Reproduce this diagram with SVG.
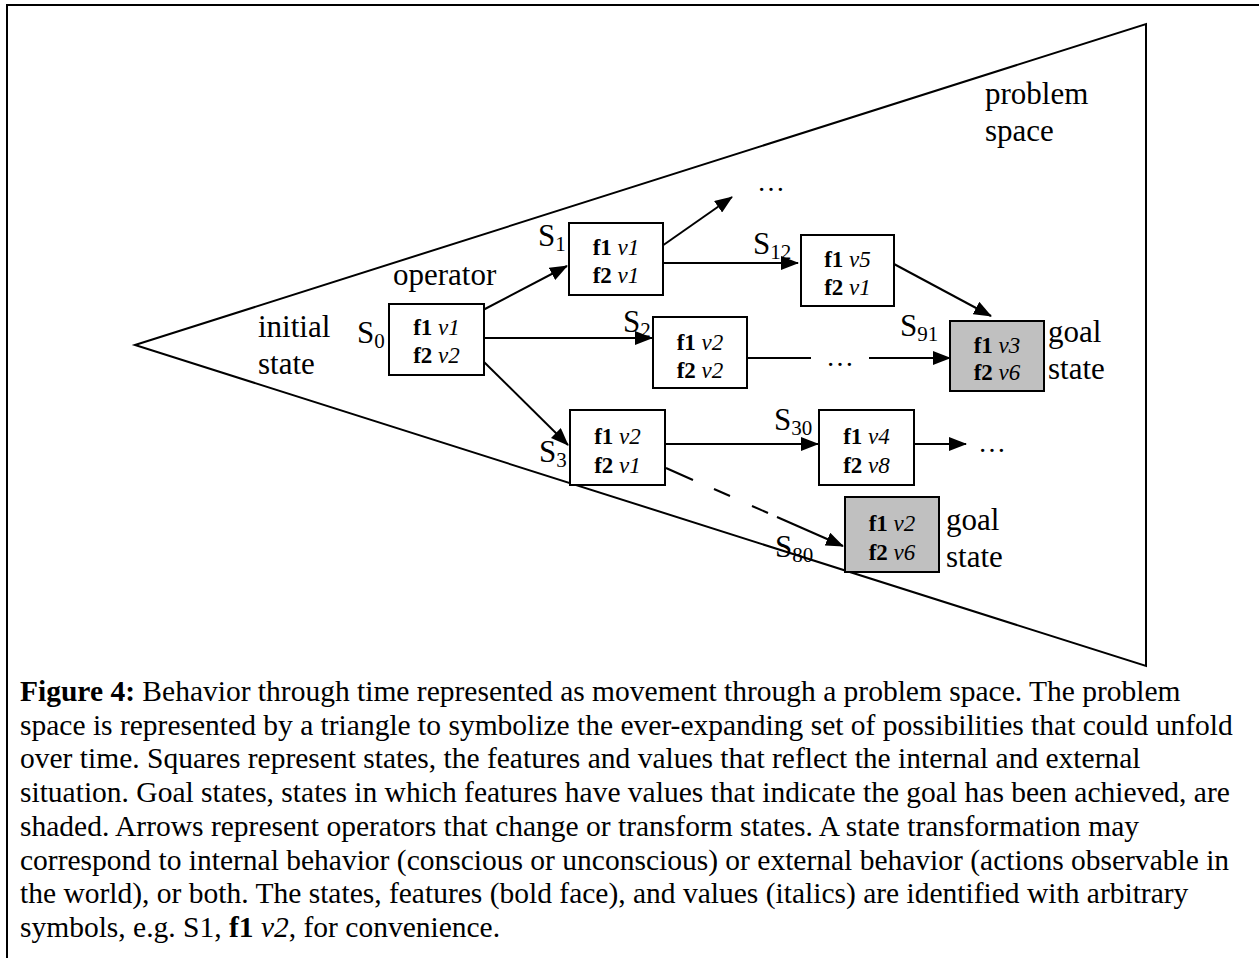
<svg xmlns="http://www.w3.org/2000/svg" width="1259" height="958" viewBox="0 0 1259 958">
<style>
text{font-family:"Liberation Serif","Times New Roman",serif;fill:#000}
.lbl{font-size:31px}
.sub{font-size:21px}
.nt{font-size:23px;text-anchor:middle}
.b{font-weight:bold}
.i{font-style:italic}
.box{fill:#fff;stroke:#000;stroke-width:2}
.goal{fill:#c0c0c0;stroke:#000;stroke-width:2}
.ln{stroke:#000;stroke-width:2;fill:none}
.cap{font-size:29.5px}
.dots{font-size:28px}
</style>
<defs>
<marker id="ah" markerUnits="userSpaceOnUse" markerWidth="18" markerHeight="14" refX="17" refY="7" orient="auto">
<path d="M0,0 L18,7 L0,14 Z" fill="#000"/>
</marker>
</defs>
<rect width="1259" height="958" fill="#fff"/>
<g id="frame">
<path d="M7,958 V5 H1259" class="ln"/>
</g>
<g id="problem-space">
<polygon points="135,345 1146,24 1146,666" class="ln"/>
<text class="lbl" x="985" y="104">problem</text>
<text class="lbl" x="985" y="141">space</text>
</g>
<g id="labels">
<text class="lbl" x="258" y="337">initial</text>
<text class="lbl" x="258" y="374">state</text>
<text class="lbl" x="393" y="285">operator</text>
</g>
<g id="connectors">
<line x1="483" y1="310" x2="567" y2="266" class="ln" marker-end="url(#ah)"/>
<line x1="484" y1="338" x2="652" y2="338" class="ln" marker-end="url(#ah)"/>
<line x1="484" y1="362" x2="568" y2="445" class="ln" marker-end="url(#ah)"/>
<line x1="662" y1="246" x2="732" y2="197" class="ln" marker-end="url(#ah)"/>
<line x1="662" y1="263" x2="798" y2="263" class="ln" marker-end="url(#ah)"/>
<line x1="894" y1="264" x2="991" y2="316" class="ln" marker-end="url(#ah)"/>
<line x1="743" y1="358" x2="811" y2="358" class="ln"/>
<line x1="869" y1="358" x2="950" y2="358" class="ln" marker-end="url(#ah)"/>
<line x1="665" y1="444" x2="818" y2="444" class="ln" marker-end="url(#ah)"/>
<line x1="912" y1="444" x2="966" y2="444" class="ln" marker-end="url(#ah)"/>
<line x1="666" y1="468" x2="693" y2="480" class="ln"/>
<line x1="714" y1="489" x2="730" y2="496" class="ln"/>
<line x1="752" y1="506" x2="768" y2="513" class="ln"/>
<line x1="777" y1="517" x2="843" y2="546" class="ln" marker-end="url(#ah)"/>
<text class="dots" x="757" y="191">…</text>
<text class="dots" x="826" y="366">…</text>
<text class="dots" x="978" y="452">…</text>
</g>
<g id="S0">
<rect x="389" y="304" width="95" height="71" class="box"/>
<text class="lbl" x="357" y="343">S<tspan class="sub" dy="5">0</tspan></text>
<text class="nt" x="436.5" y="335"><tspan class="b">f1</tspan> <tspan class="i">v1</tspan></text>
<text class="nt" x="436.5" y="363"><tspan class="b">f2</tspan> <tspan class="i">v2</tspan></text>
</g>
<g id="S1">
<rect x="569" y="223" width="94" height="72" class="box"/>
<text class="lbl" x="538" y="246">S<tspan class="sub" dy="5">1</tspan></text>
<text class="nt" x="616" y="255"><tspan class="b">f1</tspan> <tspan class="i">v1</tspan></text>
<text class="nt" x="616" y="283"><tspan class="b">f2</tspan> <tspan class="i">v1</tspan></text>
</g>
<g id="S12">
<rect x="801" y="235" width="93" height="71" class="box"/>
<text class="lbl" x="753" y="254">S<tspan class="sub" dy="5">12</tspan></text>
<text class="nt" x="847.5" y="267"><tspan class="b">f1</tspan> <tspan class="i">v5</tspan></text>
<text class="nt" x="847.5" y="295"><tspan class="b">f2</tspan> <tspan class="i">v1</tspan></text>
</g>
<g id="S2">
<rect x="653" y="317" width="94" height="71" class="box"/>
<text class="lbl" x="623" y="332">S<tspan class="sub" dy="5">2</tspan></text>
<text class="nt" x="700" y="350"><tspan class="b">f1</tspan> <tspan class="i">v2</tspan></text>
<text class="nt" x="700" y="378"><tspan class="b">f2</tspan> <tspan class="i">v2</tspan></text>
</g>
<g id="S91">
<rect x="950" y="321" width="94" height="70" class="goal"/>
<text class="lbl" x="900" y="336">S<tspan class="sub" dy="5">91</tspan></text>
<text class="nt" x="997" y="353"><tspan class="b">f1</tspan> <tspan class="i">v3</tspan></text>
<text class="nt" x="997" y="380"><tspan class="b">f2</tspan> <tspan class="i">v6</tspan></text>
<text class="lbl" x="1048" y="342">goal</text>
<text class="lbl" x="1048" y="379">state</text>
</g>
<g id="S3">
<rect x="570" y="410" width="95" height="75" class="box"/>
<text class="lbl" x="539" y="462">S<tspan class="sub" dy="5">3</tspan></text>
<text class="nt" x="617.5" y="444"><tspan class="b">f1</tspan> <tspan class="i">v2</tspan></text>
<text class="nt" x="617.5" y="473"><tspan class="b">f2</tspan> <tspan class="i">v1</tspan></text>
</g>
<g id="S30">
<rect x="819" y="410" width="95" height="75" class="box"/>
<text class="lbl" x="774" y="430">S<tspan class="sub" dy="5">30</tspan></text>
<text class="nt" x="866.5" y="444"><tspan class="b">f1</tspan> <tspan class="i">v4</tspan></text>
<text class="nt" x="866.5" y="473"><tspan class="b">f2</tspan> <tspan class="i">v8</tspan></text>
</g>
<g id="S80">
<rect x="845" y="497" width="94" height="75" class="goal"/>
<text class="lbl" x="775" y="557">S<tspan class="sub" dy="5">80</tspan></text>
<text class="nt" x="892" y="531"><tspan class="b">f1</tspan> <tspan class="i">v2</tspan></text>
<text class="nt" x="892" y="560"><tspan class="b">f2</tspan> <tspan class="i">v6</tspan></text>
<text class="lbl" x="946" y="530">goal</text>
<text class="lbl" x="946" y="567">state</text>
</g>
<g id="caption" class="cap">
<text class="cap" x="20" y="701"><tspan class="b">Figure 4:</tspan> Behavior through time represented as movement through a problem space. The problem</text>
<text class="cap" x="20" y="734.7">space is represented by a triangle to symbolize the ever-expanding set of possibilities that could unfold</text>
<text class="cap" x="20" y="768.4">over time. Squares represent states, the features and values that reflect the internal and external</text>
<text class="cap" x="20" y="802.1">situation. Goal states, states in which features have values that indicate the goal has been achieved, are</text>
<text class="cap" x="20" y="835.8">shaded. Arrows represent operators that change or transform states. A state transformation may</text>
<text class="cap" x="20" y="869.5">correspond to internal behavior (conscious or unconscious) or external behavior (actions observable in</text>
<text class="cap" x="20" y="903.2">the world), or both. The states, features (bold face), and values (italics) are identified with arbitrary</text>
<text class="cap" x="20" y="936.9">symbols, e.g. S1, <tspan class="b">f1</tspan> <tspan class="i">v2</tspan>, for convenience.</text>
</g>
</svg>
